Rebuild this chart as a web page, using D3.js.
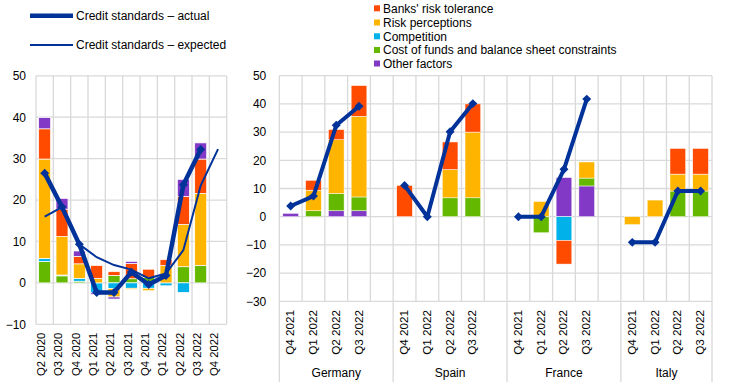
<!DOCTYPE html>
<html><head><meta charset="utf-8">
<script src="https://cdn.jsdelivr.net/npm/d3@7"></script>
<style>
body{margin:0;background:#fff}
text{font-family:"Liberation Sans",Arial,sans-serif;fill:#000}
</style>
</head><body>
<svg id="c" width="744" height="384"></svg>
<script>
// ---------- Left panel (euro area) ----------
const leftCategories = ["Q2 2020","Q3 2020","Q4 2020","Q1 2021","Q2 2021","Q3 2021","Q4 2021","Q1 2022","Q2 2022","Q3 2022","Q4 2022"];
const leftCostOfFunds     = [5.2, 1.7, 0.4, 0,    1.8,  1.0,  1.3,  0,    3.9,  4.2, 0];
const leftCompetition     = [0.7, 0.2, 0.7, -2.4, -1.4, -1.3, -1.3, -0.7, -2.3, 0,   0];
const leftRiskPerceptions = [24.0, 9.3, 3.5, 1.1, -2.0, -0.3, -0.6, 4.2, 10.2, 17.4, 0];
const leftRiskTolerance   = [7.3, 6.6, 1.8, 3.1,  0.9,  3.7,  2.0,  1.4,  6.8,  8.3, 0];
const leftOtherFactors    = [2.7, 2.6, 1.3, -0.4, -0.5, 0.5,  0,    0,    4.1,  3.9, 0];
const leftActual   = [26.5, 18.3, 9.3, -2.3, -2.3, 2.6, -0.4, 1.8, 23.7, 32.2, null];
const leftExpected = [16.0, 18.3, 9.3, 6.2, 4.3, 3.2, 1.1, 2.3, 7.9, 23.5, 32.3];
const leftTicks = [-10, 0, 10, 20, 30, 40, 50];

// ---------- Right panel (countries) ----------
const rightCountries = ["Germany","Spain","France","Italy"];
const rightQuarters  = ["Q4 2021","Q1 2022","Q2 2022","Q3 2022"];
// values ordered Germany(4), Spain(4), France(4), Italy(4)
const rightOtherFactors    = [1.2, 0, 2.1, 2.1,   0, 0, 0, 0,        0, 0, 13.9, 10.9,   0, 0, 0, 0];
const rightCostOfFunds     = [0, 2.1, 6.1, 4.9,   0, 0, 6.7, 6.7,    0, -5.7, 0, 2.8,    0, 0, 9.1, 9.1];
const rightCompetition     = [0, 0, 0, 0,         0, 0, 0, 0,        0, 0, -8.4, 0,      0, 0, 0, 0];
const rightRiskPerceptions = [0, 7.3, 19.1, 28.6, 0, 0, 10.0, 23.3,  0, 5.4, 0, 5.7,     -2.8, 5.9, 6.0, 6.0];
const rightRiskTolerance   = [0, 3.5, 3.6, 10.9,  11.1, 0, 9.8, 10.0, 0, 0, -8.4, 0,     0, 0, 9.1, 9.1];
const rightActual          = [3.8, 7.3, 32.4, 39.2, 11.1, 0, 30.1, 40.1, 0, 0, 16.8, 41.7, -9.1, -9.1, 9.1, 9.1];
const rightTicks = [-30, -20, -10, 0, 10, 20, 30, 40, 50];

const seriesNames = ["Banks' risk tolerance","Risk perceptions","Competition","Cost of funds and balance sheet constraints","Other factors"];
const seriesKeys  = ["tol","perc","comp","cost","other"];
const colors = {tol:"#FF4B00", perc:"#FFB400", comp:"#00B1EA", cost:"#65B800", other:"#8139C6"};
const lineColor = "#003299";
const gridColor = "#d9d9d9";

const svg = d3.select("#c");
const diamond = d3.symbol().type(d3.symbolSquare).size(40);

// ================= LEFT PANEL =================
const xL = d3.scaleBand().domain(leftCategories).range([36, 226.7]).padding(0);
const yL = d3.scaleLinear().domain([-10, 50]).range([324.3, 75.8]);
const gL = svg.append("g");

// gridlines
gL.selectAll(".hg").data(leftTicks).join("line")
  .attr("x1", xL.range()[0]).attr("x2", xL.range()[1])
  .attr("y1", d => yL(d)).attr("y2", d => yL(d))
  .attr("stroke", gridColor).attr("stroke-width", 1.3);
const leftEdges = leftCategories.map(c => xL(c)).concat([xL.range()[1]]);
gL.selectAll(".vg").data(leftEdges).join("line")
  .attr("x1", d => d).attr("x2", d => d)
  .attr("y1", yL(50)).attr("y2", yL(-10))
  .attr("stroke", gridColor).attr("stroke-width", 1.3);

// y axis labels
const axL = gL.append("g").attr("transform", `translate(${xL.range()[0]},0)`)
  .call(d3.axisLeft(yL).tickValues(leftTicks).tickSize(0).tickPadding(10));
axL.select(".domain").remove();
axL.selectAll("text").style("font-family", '"Liberation Sans",Arial,sans-serif').style("font-size", "12px").attr("fill", "#000");

// stacked bars
const leftKeys = ["cost","comp","perc","tol","other"];
const leftRows = leftCategories.map((c, i) => ({cat: c, cost: leftCostOfFunds[i], comp: leftCompetition[i], perc: leftRiskPerceptions[i], tol: leftRiskTolerance[i], other: leftOtherFactors[i]}));
const stackL = d3.stack().keys(leftKeys).offset(d3.stackOffsetDiverging)(leftRows);
const bwL = xL.bandwidth() * 0.69;
stackL.forEach(layer => {
  gL.append("g").selectAll("rect").data(layer.filter(d => d[1] !== d[0])).join("rect")
    .attr("x", d => xL(d.data.cat) + (xL.bandwidth() - bwL) / 2)
    .attr("width", bwL)
    .attr("y", d => yL(Math.max(d[0], d[1])))
    .attr("height", d => Math.abs(yL(d[0]) - yL(d[1])))
    .attr("fill", colors[layer.key]).attr("stroke", "#fff").attr("stroke-width", 0.7);
});

// lines
const cL = c => xL(c) + xL.bandwidth() / 2;
const expData = leftCategories.map((c, i) => ({c, v: leftExpected[i]}));
gL.append("path").datum(expData)
  .attr("d", d3.line().defined(d => d.v != null).x(d => cL(d.c)).y(d => yL(d.v)))
  .attr("fill", "none").attr("stroke", lineColor).attr("stroke-width", 2);
const actData = leftCategories.map((c, i) => ({c, v: leftActual[i]})).filter(d => d.v != null);
gL.append("path").datum(actData)
  .attr("d", d3.line().x(d => cL(d.c)).y(d => yL(d.v)))
  .attr("fill", "none").attr("stroke", lineColor).attr("stroke-width", 4.5).attr("stroke-linejoin", "round");
gL.selectAll(".mk").data(actData).join("path")
  .attr("d", diamond)
  .attr("transform", d => `translate(${cL(d.c)},${yL(d.v)}) rotate(45)`)
  .attr("fill", lineColor);

// x labels
gL.selectAll(".xl").data(leftCategories).join("text")
  .attr("transform", c => `translate(${cL(c) + 0.3},332.7) rotate(-90)`)
  .attr("text-anchor", "end").style("font-size", "11.3px").text(c => c);

// ================= RIGHT PANEL =================
const slots = [];
rightCountries.forEach((ct, ci) => {
  rightQuarters.forEach(q => slots.push(ct + "|" + q));
  if (ci < rightCountries.length - 1) slots.push(ct + "|gap");
});
const xR = d3.scaleBand().domain(slots).range([279.3, 712]).padding(0);
const yR = d3.scaleLinear().domain([-30, 50]).range([301.3, 75.7]);
const gR = svg.append("g");

gR.selectAll(".hg").data(rightTicks).join("line")
  .attr("x1", xR.range()[0]).attr("x2", xR.range()[1])
  .attr("y1", d => yR(d)).attr("y2", d => yR(d))
  .attr("stroke", gridColor).attr("stroke-width", 1.3);
const rightEdges = slots.map(s => xR(s)).concat([xR.range()[1]]);
gR.selectAll(".vg").data(rightEdges).join("line")
  .attr("x1", d => d).attr("x2", d => d)
  .attr("y1", yR(50)).attr("y2", yR(-30))
  .attr("stroke", gridColor).attr("stroke-width", 1.3);

// group separators below axis
const groupStarts = rightCountries.map(ct => xR(ct + "|" + rightQuarters[0]));
const groupEdges = groupStarts.concat([xR.range()[1]]);
gR.selectAll(".gs").data(groupEdges).join("line")
  .attr("x1", d => d).attr("x2", d => d)
  .attr("y1", yR(-30)).attr("y2", 382)
  .attr("stroke", gridColor).attr("stroke-width", 1.3);

const axR = gR.append("g").attr("transform", `translate(${xR.range()[0]},0)`)
  .call(d3.axisLeft(yR).tickValues(rightTicks).tickSize(0).tickPadding(13));
axR.select(".domain").remove();
axR.selectAll("text").style("font-family", '"Liberation Sans",Arial,sans-serif').style("font-size", "12px").attr("fill", "#000");

const rightKeys = ["other","cost","comp","perc","tol"];
const rightRows = [];
rightCountries.forEach((ct, ci) => rightQuarters.forEach((q, qi) => {
  const i = ci * 4 + qi;
  rightRows.push({slot: ct + "|" + q, other: rightOtherFactors[i], cost: rightCostOfFunds[i], comp: rightCompetition[i], perc: rightRiskPerceptions[i], tol: rightRiskTolerance[i]});
}));
const stackR = d3.stack().keys(rightKeys).offset(d3.stackOffsetDiverging)(rightRows);
const bwR = xR.bandwidth() * 0.69;
stackR.forEach(layer => {
  gR.append("g").selectAll("rect").data(layer.filter(d => d[1] !== d[0])).join("rect")
    .attr("x", d => xR(d.data.slot) + (xR.bandwidth() - bwR) / 2)
    .attr("width", bwR)
    .attr("y", d => yR(Math.max(d[0], d[1])))
    .attr("height", d => Math.abs(yR(d[0]) - yR(d[1])))
    .attr("fill", colors[layer.key]).attr("stroke", "#fff").attr("stroke-width", 0.5);
});

const cR = s => xR(s) + xR.bandwidth() / 2;
rightCountries.forEach((ct, ci) => {
  const pts = rightQuarters.map((q, qi) => ({s: ct + "|" + q, v: rightActual[ci * 4 + qi]}));
  gR.append("path").datum(pts)
    .attr("d", d3.line().x(d => cR(d.s)).y(d => yR(d.v)))
    .attr("fill", "none").attr("stroke", lineColor).attr("stroke-width", 4).attr("stroke-linejoin", "round");
  gR.append("g").selectAll("path").data(pts).join("path")
    .attr("d", diamond)
    .attr("transform", d => `translate(${cR(d.s)},${yR(d.v)}) rotate(45)`)
    .attr("fill", lineColor);
});

// x labels
const labelSlots = slots.filter(s => !s.endsWith("|gap"));
gR.selectAll(".xl").data(labelSlots).join("text")
  .attr("transform", s => `translate(${cR(s) + 3.5},310) rotate(-90)`)
  .attr("text-anchor", "end").style("font-size", "11.7px").text(s => s.split("|")[1]);
gR.selectAll(".ct").data(rightCountries).join("text")
  .attr("x", (ct, i) => (groupEdges[i] + groupEdges[i + 1]) / 2)
  .attr("y", 377).attr("text-anchor", "middle").style("font-size", "12px").text(d => d);

// ================= LEGENDS =================
const lg = svg.append("g");
lg.append("line").attr("x1", 30).attr("x2", 73).attr("y1", 15.7).attr("y2", 15.7)
  .attr("stroke", lineColor).attr("stroke-width", 4.5);
lg.append("path").attr("d", d3.symbol().type(d3.symbolSquare).size(10)).attr("transform", "translate(51.5,15.7) rotate(45)").attr("fill", lineColor);
lg.append("text").attr("x", 76).attr("y", 15.7).attr("dy", "0.35em").style("font-size", "12px").text("Credit standards – actual");
lg.append("line").attr("x1", 30).attr("x2", 73).attr("y1", 45).attr("y2", 45)
  .attr("stroke", lineColor).attr("stroke-width", 2);
lg.append("text").attr("x", 76).attr("y", 45).attr("dy", "0.35em").style("font-size", "12px").text("Credit standards – expected");

const legRows = [8.3, 22.5, 36.3, 50, 63.5];
seriesKeys.forEach((k, i) => {
  lg.append("rect").attr("x", 374).attr("y", legRows[i] - 3).attr("width", 6).attr("height", 6).attr("fill", colors[k]);
  lg.append("text").attr("x", 383).attr("y", legRows[i]).attr("dy", "0.35em").style("font-size", "12px").text(seriesNames[i]);
});
</script>
</body></html>
